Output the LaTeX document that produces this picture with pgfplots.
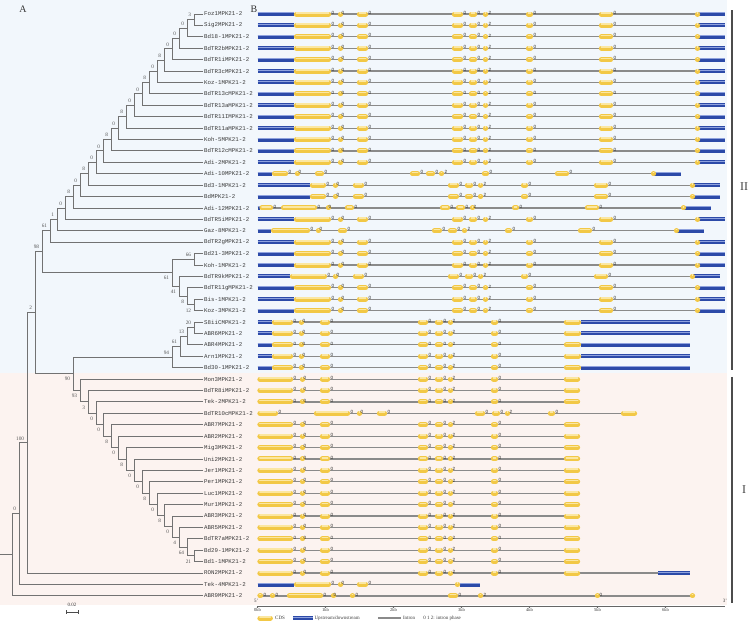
\documentclass[border=0pt]{standalone}
\usepackage{pgfplots}
\pgfplotsset{compat=1.18}
\usepackage{pgfplotstable}
\usepackage{fontspec}
\setmainfont{Liberation Serif}
\newfontfamily\monof{Liberation Mono}
\newfontfamily\sansf{Liberation Sans}
\definecolor{bgblue}{HTML}{F2F7FC}
\definecolor{bgpink}{HTML}{FCF3F0}
\definecolor{cdsc}{HTML}{F2C846}
\definecolor{cdslight}{HTML}{FBE7A2}
\definecolor{utrc}{HTML}{2C4AA8}
\definecolor{utrlight}{HTML}{8FA2DE}
\definecolor{intronc}{HTML}{8A8A8A}
\definecolor{treec}{HTML}{727272}
\definecolor{txtc}{HTML}{3A3A3A}
\definecolor{bsc}{HTML}{555555}
\newcommand\leaffont{\monof\fontsize{5.8}{6}\selectfont}
\newcommand\bsfont{\fontsize{5.3}{6}\selectfont}
\newcommand\phfont{\sansf\fontsize{4.6}{5}\selectfont}
\newcommand\smallfont{\fontsize{5}{6}\selectfont}

% gene structures, positions in kb: s e kind(0 UTR,1 CDS,2 whole span) ph(phase after exon, 9 none)
\pgfplotstableread[row sep=\\]{
s e kind ph\\
0 6.875 2 9\\
0 0.537 0 9\\
0.537 1.081 1 0\\
1.184 1.228 1 0\\
1.463 1.625 1 0\\
2.860 3.022 1 0\\
3.110 3.228 1 0\\
3.316 3.390 1 2\\
3.949 4.051 1 0\\
5.022 5.228 1 0\\
6.434 6.493 1 9\\
6.478 6.875 0 9\\
}\tA
\pgfplotstableread[row sep=\\]{
s e kind ph\\
0 6.801 2 9\\
0 0.772 0 9\\
0.772 1.007 1 0\\
1.110 1.154 1 0\\
1.404 1.566 1 0\\
2.801 2.963 1 0\\
3.051 3.169 1 0\\
3.243 3.316 1 2\\
3.875 3.978 1 0\\
4.949 5.154 1 0\\
6.360 6.419 1 9\\
6.404 6.801 0 9\\
}\tAtwo
\pgfplotstableread[row sep=\\]{
s e kind ph\\
0 6.801 2 9\\
0 0.478 0 9\\
0.478 1.022 1 0\\
1.110 1.154 1 0\\
1.404 1.566 1 0\\
2.801 2.963 1 0\\
3.051 3.169 1 0\\
3.243 3.316 1 2\\
3.875 3.978 1 0\\
4.949 5.154 1 0\\
6.360 6.419 1 9\\
6.404 6.801 0 9\\
}\tAthree
\pgfplotstableread[row sep=\\]{
s e kind ph\\
0 6.228 2 9\\
0 0.213 0 9\\
0.213 0.449 1 0\\
0.551 0.596 1 0\\
0.846 0.978 1 0\\
2.243 2.390 1 0\\
2.478 2.610 1 0\\
2.669 2.743 1 2\\
3.301 3.404 1 0\\
4.375 4.581 1 0\\
5.787 5.846 1 9\\
5.831 6.228 0 9\\
}\tC
\pgfplotstableread[row sep=\\]{
s e kind ph\\
0 6.669 2 9\\
0 0.040 0 9\\
0.030 0.228 1 0\\
0.346 0.875 1 0\\
1.007 1.037 1 0\\
1.287 1.419 1 0\\
2.684 2.831 1 0\\
2.919 3.051 1 0\\
3.125 3.169 1 2\\
3.743 3.846 1 0\\
4.816 5.022 1 0\\
6.228 6.287 1 9\\
6.272 6.669 0 9\\
}\tD
\pgfplotstableread[row sep=\\]{
s e kind ph\\
0 6.566 2 9\\
0 0.199 0 9\\
0.199 0.772 1 0\\
0.860 0.904 1 0\\
1.184 1.316 1 0\\
2.566 2.713 1 0\\
2.801 2.934 1 0\\
3.007 3.081 1 2\\
3.640 3.743 1 0\\
4.713 4.919 1 0\\
6.125 6.184 1 9\\
6.169 6.566 0 9\\
}\tE
\pgfplotstableread[row sep=\\]{
s e kind ph\\
0 6.360 2 9\\
0 0.213 0 9\\
0.213 0.522 1 0\\
0.610 0.654 1 0\\
0.919 1.066 1 0\\
2.360 2.507 1 0\\
2.610 2.728 1 0\\
2.801 2.860 1 2\\
3.434 3.537 1 0\\
4.507 4.757 1 9\\
4.757 6.360 0 9\\
}\tF
\pgfplotstableread[row sep=\\]{
s e kind ph\\
0 4.743 2 9\\
0 0.522 1 0\\
0.625 0.669 1 0\\
0.919 1.066 1 0\\
2.360 2.507 1 0\\
2.610 2.728 1 0\\
2.801 2.860 1 2\\
3.434 3.537 1 0\\
4.507 4.743 1 9\\
}\tB
\pgfplotstableread[row sep=\\]{
s e kind ph\\
0 5.581 2 9\\
0 0.301 1 0\\
0.831 1.360 1 0\\
1.463 1.507 1 0\\
1.757 1.904 1 0\\
3.199 3.346 1 0\\
3.449 3.566 1 0\\
3.640 3.699 1 2\\
4.272 4.375 1 0\\
5.346 5.581 1 9\\
}\tG
\pgfplotstableread[row sep=\\]{
s e kind ph\\
0 6.360 2 9\\
0 0.522 1 0\\
0.625 0.669 1 0\\
0.919 1.066 1 0\\
2.360 2.507 1 0\\
2.610 2.728 1 0\\
2.801 2.860 1 2\\
3.434 3.537 1 0\\
4.507 4.743 1 9\\
5.890 6.360 0 9\\
}\tH
\pgfplotstableread[row sep=\\]{
s e kind ph\\
0 3.272 2 9\\
0 0.537 0 9\\
0.537 1.081 1 0\\
1.184 1.228 1 0\\
1.463 1.625 1 0\\
2.904 2.978 1 9\\
2.978 3.272 0 9\\
}\tI
\pgfplotstableread[row sep=\\]{
s e kind ph\\
0 6.404 2 9\\
0 0.081 1 0\\
0.184 0.257 1 0\\
0.434 0.963 1 0\\
1.081 1.110 1 0\\
1.360 1.434 1 0\\
2.801 2.949 1 0\\
3.243 3.316 1 2\\
4.963 5.022 1 0\\
6.360 6.404 1 9\\
}\tJ

\pgfplotstableread[row sep=\\]{
r name\\
1 Foz1MPK21-2\\
2 Sig2MPK21-2\\
3 Bd18-1MPK21-2\\
4 BdTR2bMPK21-2\\
5 BdTR1iMPK21-2\\
6 BdTR3cMPK21-2\\
7 Koz-1MPK21-2\\
8 BdTR13cMPK21-2\\
9 BdTR13aMPK21-2\\
10 BdTR11IMPK21-2\\
11 BdTR11aMPK21-2\\
12 Koh-5MPK21-2\\
13 BdTR12cMPK21-2\\
14 Adi-2MPK21-2\\
15 Adi-10MPK21-2\\
16 Bd3-1MPK21-2\\
17 BdMPK21-2\\
18 Adi-12MPK21-2\\
19 BdTR5iMPK21-2\\
20 Gaz-8MPK21-2\\
21 BdTR2gMPK21-2\\
22 Bd21-3MPK21-2\\
23 Koh-1MPK21-2\\
24 BdTR9kMPK21-2\\
25 BdTR11gMPK21-2\\
26 Bis-1MPK21-2\\
27 Koz-3MPK21-2\\
28 S8iiCMPK21-2\\
29 ABR6MPK21-2\\
30 ABR4MPK21-2\\
31 Arn1MPK21-2\\
32 Bd30-1MPK21-2\\
33 Mon3MPK21-2\\
34 BdTR8iMPK21-2\\
35 Tek-2MPK21-2\\
36 BdTR10cMPK21-2\\
37 ABR7MPK21-2\\
38 ABR2MPK21-2\\
39 Mig3MPK21-2\\
40 Uni2MPK21-2\\
41 Jer1MPK21-2\\
42 Per1MPK21-2\\
43 Luc1MPK21-2\\
44 Mur1MPK21-2\\
45 ABR3MPK21-2\\
46 ABR5MPK21-2\\
47 BdTR7aMPK21-2\\
48 Bd29-1MPK21-2\\
49 Bd1-1MPK21-2\\
50 RON2MPK21-2\\
51 Tek-4MPK21-2\\
52 ABR9MPK21-2\\
}\leaves

\pgfplotstableread[row sep=\\]{
x r t d\\
194 1.5 3 1\\
187 2.25 0 1\\
179 3.125 0 1\\
172 4.063 0 1\\
164 5.031 8 1\\
157 6.016 0 1\\
149 7.008 8 1\\
142 8.004 0 1\\
134 9.002 0 1\\
126 10.0 8 1\\
118 11 0 1\\
111 12 8 1\\
103 13 0 1\\
96 14 0 1\\
88 15 8 1\\
80 16 0 1\\
73 17 8 1\\
65 18 0 1\\
57 19 1 1\\
50 20 61 1\\
42 21.844 98 1\\
194 22.5 66 1\\
172 23.688 61 -1\\
179 24.875 41 -1\\
187 25.75 8 -1\\
194 26.5 12 -1\\
194 28.5 20 1\\
187 29.25 13 1\\
180 30.125 61 1\\
172 31.063 94 1\\
73 32.531 90 -1\\
80 34 93 -1\\
88 35 3 -1\\
96 36 0 -1\\
103 37 0 -1\\
111 38 8 -1\\
118 39 0 -1\\
126 40 8 -1\\
134 41 0 -1\\
142 42 0 -1\\
149 42.992 8 -1\\
157 43.984 0 -1\\
164 44.969 8 -1\\
172 45.938 0 -1\\
179 46.875 4 -1\\
187 47.75 64 -1\\
194 48.5 21 -1\\
35 27.188 2 1\\
27 38.594 100 1\\
19 44.797 0 1\\
}\boots

\newcommand{\gene}[2]{%
\addplot[intronc, line width=1.2bp, mark=none, quiver={u=\thisrow{e}-\thisrow{s}, v=0},
  restrict expr to domain={\thisrow{kind}}{1.5:2.5}] table[x=s, y expr=-#1] {#2};
\addplot[utrc, line width=4bp, mark=none, quiver={u=\thisrow{e}-\thisrow{s}, v=0},
  restrict expr to domain={\thisrow{kind}}{-0.5:0.5}] table[x=s, y expr=-#1] {#2};
\addplot[utrlight, line width=1bp, mark=none, quiver={u=\thisrow{e}-\thisrow{s}, v=0},
  restrict expr to domain={\thisrow{kind}}{-0.5:0.5}] table[x=s, y expr=-#1+0.09] {#2};
\addplot[cdsc, line width=5bp, line cap=round, mark=none,
  quiver={u={max(\thisrow{e}-\thisrow{s}-0.07,0.004)}, v=0},
  restrict expr to domain={\thisrow{kind}}{0.5:1.5}] table[x expr=\thisrow{s}+0.035, y expr=-#1] {#2};
\addplot[cdslight, line width=1.6bp, line cap=round, mark=none,
  quiver={u={max(\thisrow{e}-\thisrow{s}-0.07,0.004)}, v=0},
  restrict expr to domain={\thisrow{kind}}{0.5:1.5}] table[x expr=\thisrow{s}+0.035, y expr=-#1+0.11] {#2};
\addplot[only marks, mark=none, point meta=explicit symbolic, nodes near coords,
  every node near coord/.append style={anchor=south west, font=\phfont, text=black!85, inner sep=0.2bp, xshift=0.3bp, yshift=-0.6bp},
  restrict expr to domain={\thisrow{ph}}{-0.5:2.5}] table[x=e, y expr=-#1, meta=ph] {#2};
}

\begin{document}
\begin{tikzpicture}
\useasboundingbox (0,0) rectangle (750bp,-622bp);
\begin{axis}[anchor=north west, at={(0,0)}, width=750bp, height=622bp, scale only axis,
  xmin=0, xmax=750, ymin=-54.29, ymax=0.227, hide axis, clip=false, unbounded coords=jump]
% backgrounds
\addplot[fill=bgblue, draw=none] coordinates {(0,0.227) (727,0.227) (727,-32.46) (0,-32.46)} -- cycle;
\addplot[fill=bgpink, draw=none] coordinates {(0,-32.46) (727,-32.46) (727,-52.80) (0,-52.80)} -- cycle;
% tree
\addplot[treec, line width=0.9bp, mark=none] coordinates {
(203,-1) (194,-1) (194,-2) (203,-2) (nan,nan)
(194,-1.5) (187,-1.5) (187,-3) (203,-3) (nan,nan)
(187,-2.25) (179,-2.25) (179,-4) (203,-4) (nan,nan)
(179,-3.125) (172,-3.125) (172,-5) (203,-5) (nan,nan)
(172,-4.063) (164,-4.063) (164,-6) (203,-6) (nan,nan)
(164,-5.031) (157,-5.031) (157,-7) (203,-7) (nan,nan)
(157,-6.016) (149,-6.016) (149,-8) (203,-8) (nan,nan)
(149,-7.008) (142,-7.008) (142,-9) (203,-9) (nan,nan)
(142,-8.004) (134,-8.004) (134,-10) (203,-10) (nan,nan)
(134,-9.002) (126,-9.002) (126,-11) (203,-11) (nan,nan)
(126,-10.001) (118,-10.001) (118,-12) (203,-12) (nan,nan)
(118,-11) (111,-11) (111,-13) (203,-13) (nan,nan)
(111,-12) (103,-12) (103,-14) (203,-14) (nan,nan)
(103,-13) (96,-13) (96,-15) (203,-15) (nan,nan)
(96,-14) (88,-14) (88,-16) (203,-16) (nan,nan)
(88,-15) (80,-15) (80,-17) (203,-17) (nan,nan)
(80,-16) (73,-16) (73,-18) (203,-18) (nan,nan)
(73,-17) (65,-17) (65,-19) (203,-19) (nan,nan)
(65,-18) (57,-18) (57,-20) (203,-20) (nan,nan)
(57,-19) (50,-19) (50,-21) (203,-21) (nan,nan)
(203,-22) (194,-22) (194,-23) (203,-23) (nan,nan)
(203,-26) (194,-26) (194,-27) (203,-27) (nan,nan)
(203,-25) (187,-25) (187,-26.5) (194,-26.5) (nan,nan)
(203,-24) (179,-24) (179,-25.75) (187,-25.75) (nan,nan)
(194,-22.5) (172,-22.5) (172,-24.875) (179,-24.875) (nan,nan)
(50,-20) (42,-20) (42,-23.688) (172,-23.688) (nan,nan)
(203,-28) (194,-28) (194,-29) (203,-29) (nan,nan)
(194,-28.5) (187,-28.5) (187,-30) (203,-30) (nan,nan)
(187,-29.25) (180,-29.25) (180,-31) (203,-31) (nan,nan)
(180,-30.125) (172,-30.125) (172,-32) (203,-32) (nan,nan)
(203,-48) (194,-48) (194,-49) (203,-49) (nan,nan)
(203,-47) (187,-47) (187,-48.5) (194,-48.5) (nan,nan)
(203,-46) (179,-46) (179,-47.75) (187,-47.75) (nan,nan)
(203,-45) (172,-45) (172,-46.875) (179,-46.875) (nan,nan)
(203,-44) (164,-44) (164,-45.938) (172,-45.938) (nan,nan)
(203,-43) (157,-43) (157,-44.969) (164,-44.969) (nan,nan)
(203,-42) (149,-42) (149,-43.984) (157,-43.984) (nan,nan)
(203,-41) (142,-41) (142,-42.992) (149,-42.992) (nan,nan)
(203,-40) (134,-40) (134,-41.996) (142,-41.996) (nan,nan)
(203,-39) (126,-39) (126,-40.998) (134,-40.998) (nan,nan)
(203,-38) (118,-38) (118,-39.999) (126,-39.999) (nan,nan)
(203,-37) (111,-37) (111,-39) (118,-39) (nan,nan)
(203,-36) (103,-36) (103,-38) (111,-38) (nan,nan)
(203,-35) (96,-35) (96,-37) (103,-37) (nan,nan)
(203,-34) (88,-34) (88,-36) (96,-36) (nan,nan)
(203,-33) (80,-33) (80,-35) (88,-35) (nan,nan)
(172,-31.063) (73,-31.063) (73,-34) (80,-34) (nan,nan)
(42,-21.844) (35,-21.844) (35,-32.531) (73,-32.531) (nan,nan)
(35,-27.188) (27,-27.188) (27,-50) (203,-50) (nan,nan)
(27,-38.594) (19,-38.594) (19,-51) (203,-51) (nan,nan)
(19,-44.797) (12,-44.797) (12,-52) (203,-52) (nan,nan)
(12,-48.398) (0,-48.398)
};
% leaf names
\addplot[only marks, mark=none, point meta=explicit symbolic, nodes near coords,
  every node near coord/.append style={anchor=west, font=\leaffont, text=txtc, inner sep=0.5bp}]
  table[x expr=203.5, y expr=-\thisrow{r}, meta=name] {\leaves};
% bootstrap values
\addplot[only marks, mark=none, point meta=explicit symbolic, nodes near coords,
  every node near coord/.append style={anchor=south east, font=\bsfont, text=bsc, inner sep=0.4bp, xshift=-2.3bp, yshift=2.2bp},
  restrict expr to domain={\thisrow{d}}{0:2}] table[x=x, y expr=-\thisrow{r}, meta=t] {\boots};
\addplot[only marks, mark=none, point meta=explicit symbolic, nodes near coords,
  every node near coord/.append style={anchor=north east, font=\bsfont, text=bsc, inner sep=0.4bp, xshift=-2.3bp, yshift=-3bp},
  restrict expr to domain={\thisrow{d}}{-2:0}] table[x=x, y expr=-\thisrow{r}, meta=t] {\boots};
% clade brackets
\addplot[black!70, line width=1.3bp, mark=none] coordinates {(732,-0.65) (732,-32.2)};
\addplot[black!70, line width=1.3bp, mark=none] coordinates {(732,-32.81) (732,-52.62)};
\node[font=\fontsize{12}{12}\selectfont, text=black!75] at (axis cs:744,-16.16) {II};
\node[font=\fontsize{12}{12}\selectfont, text=black!75] at (axis cs:744,-42.7) {I};
% panel letters
\node[font=\fontsize{10}{10}\selectfont, text=black!80] at (axis cs:23,-0.56) {A};
\node[font=\fontsize{10}{10}\selectfont, text=black!80] at (axis cs:254,-0.56) {B};
% scale bar
\node[font=\smallfont, text=txtc] at (axis cs:72,-52.75) {0.02};
\addplot[black!70, line width=0.6bp, mark=none] coordinates {(66,-53.41) (78,-53.41) (nan,nan) (66,-53.25) (66,-53.57) (nan,nan) (78,-53.25) (78,-53.57)};
\end{axis}

\begin{axis}[anchor=north west, at={(257.5bp,0)}, width=467.5bp, height=606bp, scale only axis,
  xmin=0, xmax=6.875, ymin=-52.885, ymax=0.227, clip=false,
  axis x line*=bottom, axis y line=none, x axis line style={-, black!60, line width=0.6bp},
  xtick={0,1,2,3,4,5,6}, xticklabels={0kb,1kb,2kb,3kb,4kb,5kb,6kb},
  tick align=outside, major tick length=2bp, every tick/.style={black!60, line width=0.5bp},
  xticklabel style={font=\fontsize{4.6}{5}\selectfont, text=txtc, inner sep=0.6bp}]
\pgfplotsinvokeforeach{1,...,14,19,21,22,23,25,26,27}{\gene{#1}{\tA}}
\gene{15}{\tC}
\gene{16}{\tAtwo}
\gene{17}{\tAtwo}
\gene{18}{\tD}
\gene{20}{\tE}
\gene{24}{\tAthree}
\pgfplotsinvokeforeach{28,...,32}{\gene{#1}{\tF}}
\pgfplotsinvokeforeach{33,34,35,37,38,...,49}{\gene{#1}{\tB}}
\gene{36}{\tG}
\gene{50}{\tH}
\gene{51}{\tI}
\gene{52}{\tJ}
% 5' / 3'
\node[font=\fontsize{5}{5}\selectfont, text=txtc] at (axis cs:-0.02,-52.45) {5'};
\node[font=\fontsize{5}{5}\selectfont, text=txtc] at (axis cs:6.875,-52.45) {3'};
% legend
\addplot[cdsc, line width=5bp, line cap=round, mark=none] coordinates {(0.035,-53.94) (0.19,-53.94)};
\addplot[cdslight, line width=1.6bp, line cap=round, mark=none] coordinates {(0.035,-53.83) (0.19,-53.83)};
\node[anchor=west, font=\smallfont, text=txtc, inner sep=0.5bp] at (axis cs:0.25,-53.94) {CDS};
\addplot[utrc, line width=4bp, mark=none] coordinates {(0.522,-53.94) (0.816,-53.94)};
\addplot[utrlight, line width=1bp, mark=none] coordinates {(0.522,-53.85) (0.816,-53.85)};
\node[anchor=west, font=\smallfont, text=txtc, inner sep=0.5bp] at (axis cs:0.83,-53.94) {Upstream/downstream};
\addplot[intronc, line width=2bp, mark=none] coordinates {(1.772,-53.94) (2.11,-53.94)};
\node[anchor=west, font=\smallfont, text=txtc, inner sep=0.5bp] at (axis cs:2.13,-53.94) {Intron};
\node[anchor=west, font=\smallfont, text=txtc, inner sep=0.5bp] at (axis cs:2.43,-53.94) {0 1 2: intron phase};
\end{axis}
\end{tikzpicture}
\end{document}
